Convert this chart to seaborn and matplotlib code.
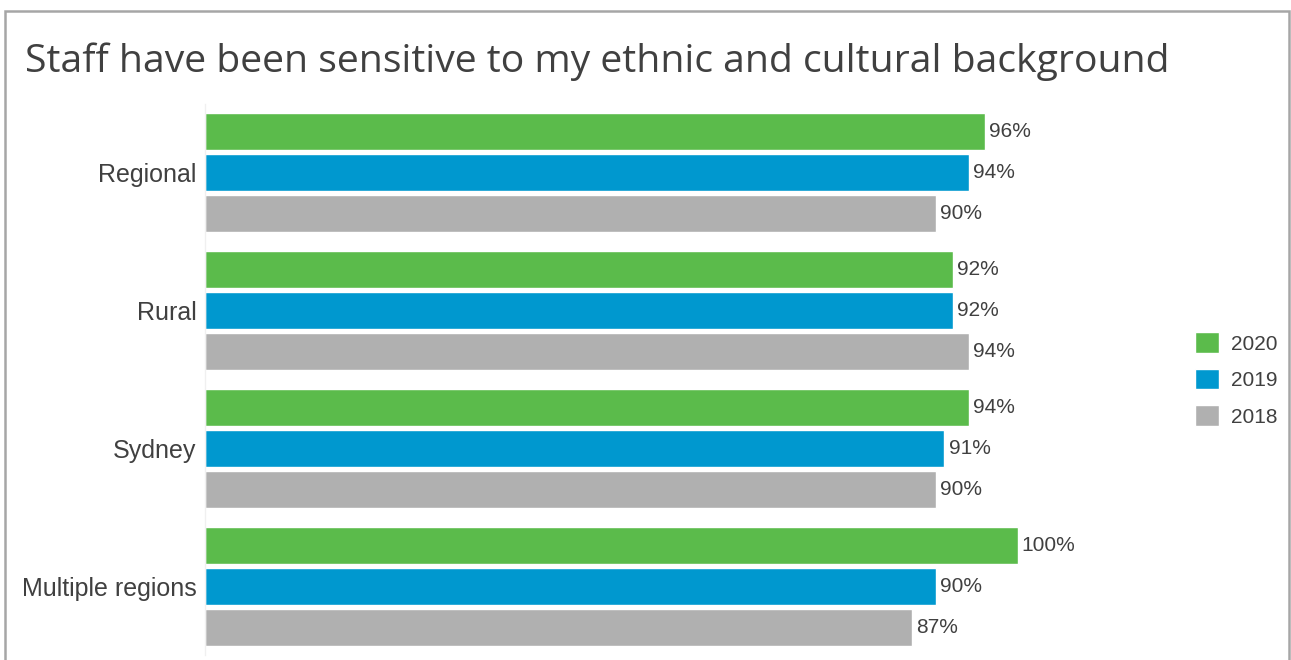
import matplotlib
matplotlib.use("Agg")
import matplotlib.pyplot as plt
import seaborn as sns
import pandas as pd
from matplotlib.patches import Rectangle

regions = ["Regional", "Rural", "Sydney", "Multiple regions"]
years = ["2020", "2019", "2018"]
values_2020 = [96, 92, 94, 100]
values_2019 = [94, 92, 91, 90]
values_2018 = [90, 94, 90, 87]
colors = ["#5BBB4B", "#0098CF", "#B0B0B0"]

df = pd.DataFrame({
    "region": regions * 3,
    "year": [y for y in years for _ in regions],
    "value": values_2020 + values_2019 + values_2018,
})

sns.set_theme(style="white")
plt.rcParams["font.family"] = ["Liberation Sans", "DejaVu Sans"]
text_color = "#404040"

fig = plt.figure(figsize=(12.91, 6.6), dpi=100)
ax = fig.add_axes([205 / 1291, 5 / 660, (1180 - 205) / 1291, 551 / 660])

sns.barplot(data=df, y="region", x="value", hue="year", hue_order=years,
            order=regions, palette=colors, orient="h", width=0.895, gap=0.1,
            saturation=1, legend=True, ax=ax)

for container in ax.containers:
    ax.bar_label(container, labels=[f"{v:.0f}%" for v in container.datavalues],
                 padding=3, fontsize=15, color=text_color)

ax.set_xlim(0, 120)
ax.set_ylim(3.5, -0.5)
ax.set_xlabel("")
ax.set_ylabel("")
ax.set_xticks([])
ax.tick_params(axis="y", length=0, pad=6, labelsize=18, labelcolor=text_color)
for side in ["top", "right", "bottom"]:
    ax.spines[side].set_visible(False)
ax.spines["left"].set_color("#F0F0F0")
ax.spines["left"].set_linewidth(1)

leg = ax.legend(loc="center left", bbox_to_anchor=(1.0, 0.5), frameon=False,
                fontsize=15, handlelength=1.15, handleheight=1.15,
                handletextpad=0.6, labelspacing=0.72, labelcolor=text_color,
                borderaxespad=0.3)

fig.text(25 / 1291, 1 - 62 / 660, "Staff have been sensitive to my ethnic and cultural background",
         fontsize=28.2, color=text_color, va="center", ha="left",
         family=["Open Sans", "DejaVu Sans"])

fig.patches.append(Rectangle((5 / 1291, -0.1), (1289 - 5) / 1291, 1.1 - 11 / 660,
                             transform=fig.transFigure, fill=False,
                             edgecolor="#A6A6A6", linewidth=1.8))

fig.savefig("out.png", dpi=100)
